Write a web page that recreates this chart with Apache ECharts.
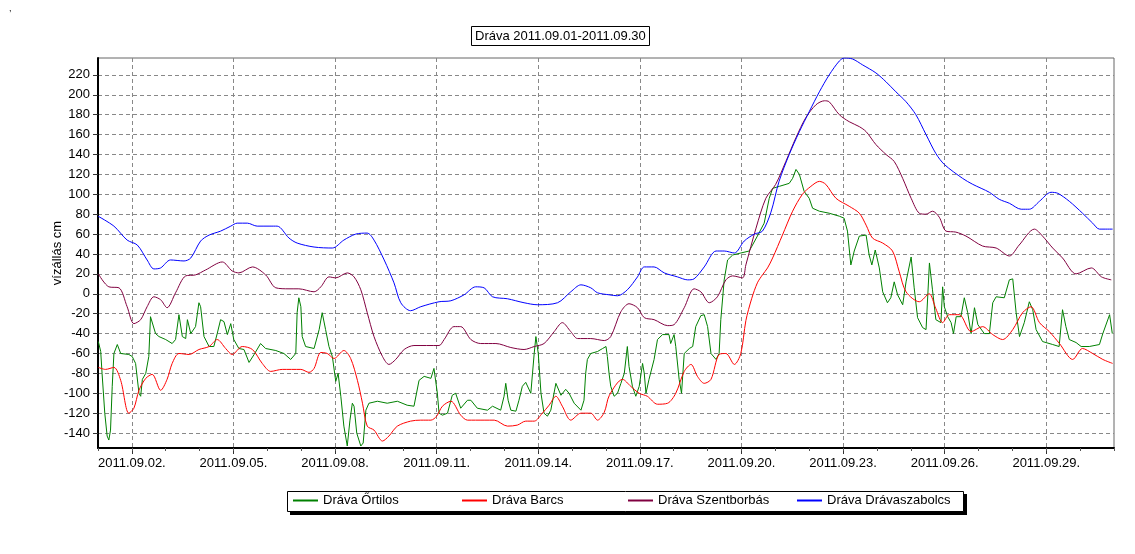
<!DOCTYPE html>
<html lang="hu">
<head>
    <meta charset="UTF-8">
    <title>Dráva vízállás</title>
</head>
<script type="text/javascript" src="https://cdn.jsdelivr.net/npm/echarts@6/dist/echarts.min.js"></script>
<style type="text/css">
    body {
        margin: 0;
        background-color: #ffffff;
    }
</style>
<body>
<div id="chart_main" style="width: 1135px;height:554px;"></div>
<script type="text/javascript">
    // x = napok 2011.09.01 00:00 óta, y = vízállás cm
    var ortilos = [
        [0.01,-48],[0.08,-58],[0.12,-80],[0.20,-120],[0.27,-143],[0.32,-147],[0.37,-137],[0.42,-93],[0.47,-60],
        [0.57,-51],[0.67,-60],[0.91,-61],[1.01,-63],[1.11,-70],[1.21,-100],[1.26,-103],[1.31,-86],[1.41,-80],
        [1.50,-63],[1.55,-23],[1.60,-21],[1.70,-40],[1.80,-43],[2.00,-46],[2.19,-50],[2.29,-46],[2.39,-21],
        [2.49,-43],[2.59,-45],[2.64,-26],[2.74,-40],[2.88,-33],[2.98,-9],[3.03,-13],[3.13,-43],[3.28,-53],
        [3.42,-53],[3.52,-40],[3.62,-26],[3.72,-28],[3.82,-41],[3.92,-30],[4.01,-46],[4.16,-55],[4.31,-56],
        [4.46,-69],[4.61,-61],[4.80,-50],[4.95,-55],[5.25,-57],[5.49,-60],[5.69,-66],[5.84,-60],[5.88,-19],
        [5.93,-4],[5.99,-13],[6.03,-43],[6.13,-53],[6.38,-55],[6.53,-36],[6.62,-19],[6.72,-36],[6.82,-53],
        [6.92,-63],[7.02,-88],[7.09,-80],[7.17,-103],[7.26,-133],[7.36,-153],[7.44,-127],[7.51,-110],[7.56,-113],
        [7.64,-140],[7.76,-153],[7.83,-150],[7.91,-117],[8.00,-110],[8.25,-108],[8.54,-110],[8.84,-108],[9.13,-112],
        [9.33,-113],[9.48,-87],[9.63,-83],[9.83,-85],[9.92,-75],[10.02,-100],[10.07,-120],[10.17,-122],[10.32,-120],
        [10.46,-102],[10.56,-100],[10.71,-115],[10.91,-107],[11.01,-107],[11.20,-115],[11.50,-117],[11.65,-113],
        [11.89,-117],[11.99,-103],[12.04,-90],[12.11,-107],[12.19,-117],[12.34,-118],[12.43,-107],[12.53,-93],
        [12.63,-89],[12.78,-100],[12.83,-80],[12.88,-60],[12.93,-43],[13.00,-60],[13.08,-100],[13.17,-120],
        [13.27,-123],[13.37,-117],[13.52,-90],[13.67,-102],[13.81,-96],[13.91,-100],[14.06,-110],[14.26,-117],
        [14.35,-107],[14.40,-80],[14.45,-66],[14.55,-60],[14.75,-58],[14.90,-55],[15.00,-53],[15.04,-63],
        [15.09,-80],[15.14,-93],[15.24,-103],[15.34,-100],[15.44,-90],[15.54,-80],[15.63,-53],[15.68,-73],
        [15.78,-93],[15.88,-103],[15.98,-93],[16.08,-70],[16.13,-80],[16.18,-100],[16.27,-86],[16.42,-66],
        [16.52,-46],[16.67,-41],[16.86,-41],[16.91,-50],[17.01,-41],[17.06,-53],[17.16,-86],[17.23,-100],
        [17.31,-60],[17.46,-55],[17.56,-53],[17.65,-33],[17.80,-22],[17.90,-21],[18.00,-33],[18.10,-60],
        [18.25,-66],[18.34,-60],[18.39,-26],[18.49,14],[18.59,34],[18.74,39],[18.98,41],[19.23,43],[19.47,58],
        [19.67,71],[19.82,96],[19.92,106],[20.12,108],[20.41,111],[20.51,116],[20.61,125],[20.71,120],[20.85,103],
        [21.00,96],[21.10,86],[21.30,83],[21.59,81],[21.89,78],[22.03,76],[22.13,63],[22.23,29],[22.33,43],
        [22.48,58],[22.68,59],[22.77,39],[22.85,29],[22.95,44],[23.07,26],[23.17,2],[23.31,-9],[23.41,-4],
        [23.51,12],[23.61,-1],[23.76,-11],[23.86,12],[24.01,37],[24.10,6],[24.20,-24],[24.35,-34],[24.45,-36],
        [24.55,31],[24.64,4],[24.74,-26],[24.89,-29],[24.94,7],[24.99,-13],[25.09,-23],[25.19,-29],[25.26,-40],
        [25.34,-23],[25.48,-23],[25.58,-4],[25.68,-19],[25.78,-40],[25.88,-14],[25.98,-31],[26.17,-40],[26.32,-40],
        [26.42,-9],[26.52,-3],[26.76,-4],[26.91,14],[27.01,15],[27.11,-19],[27.21,-43],[27.35,-29],[27.50,-8],
        [27.60,-16],[27.70,-36],[27.89,-48],[28.19,-51],[28.38,-53],[28.48,-16],[28.58,-33],[28.68,-46],
        [28.88,-49],[29.03,-53],[29.27,-53],[29.57,-51],[29.67,-40],[29.87,-21],[29.95,-40]
    ];
    var barcs = [
        [0.01,-74],[0.22,-76],[0.47,-74],[0.67,-87],[0.91,-120],[1.06,-115],[1.21,-97],[1.41,-85],[1.60,-81],
        [1.85,-97],[2.04,-86],[2.19,-70],[2.39,-60],[2.69,-61],[2.98,-56],[3.28,-53],[3.52,-46],[3.77,-55],
        [3.96,-61],[4.26,-53],[4.56,-56],[4.85,-70],[5.10,-78],[5.44,-76],[5.99,-76],[6.23,-79],[6.38,-75],
        [6.58,-59],[6.77,-60],[6.97,-65],[7.26,-57],[7.46,-65],[7.66,-87],[7.81,-110],[7.95,-133],[8.15,-137],
        [8.40,-148],[8.59,-143],[8.84,-133],[9.23,-128],[9.53,-127],[9.83,-127],[10.00,-123],[10.17,-113],
        [10.42,-108],[10.71,-122],[10.91,-127],[11.40,-127],[11.70,-127],[12.09,-133],[12.38,-132],[12.63,-128],
        [12.88,-128],[13.12,-120],[13.32,-112],[13.52,-103],[13.71,-113],[13.96,-127],[14.26,-120],[14.55,-120],
        [14.75,-127],[14.95,-119],[15.10,-102],[15.49,-86],[15.73,-93],[15.98,-100],[16.22,-103],[16.52,-111],
        [16.82,-110],[17.06,-100],[17.31,-78],[17.51,-71],[17.70,-83],[17.90,-90],[18.10,-86],[18.34,-61],
        [18.54,-60],[18.79,-71],[18.98,-60],[19.13,-27],[19.30,-5],[19.47,11],[19.62,19],[19.77,26],[19.92,36],
        [20.21,59],[20.51,83],[20.80,100],[21.05,108],[21.30,113],[21.49,110],[21.79,96],[22.18,88],[22.48,81],
        [22.68,69],[22.87,56],[23.17,51],[23.46,43],[23.66,22],[23.86,2],[24.25,-8],[24.54,0],[24.74,-15],
        [24.94,-29],[25.14,-21],[25.43,-21],[25.78,-38],[26.12,-33],[26.42,-41],[26.71,-46],[27.01,-36],
        [27.30,-19],[27.55,-13],[27.80,-29],[28.09,-38],[28.39,-50],[28.78,-66],[29.07,-55],[29.37,-60],
        [29.67,-66],[29.96,-70]
    ];
    var szentborbas = [
        [0.01,20],[0.32,7],[0.62,6],[0.86,-13],[1.06,-30],[1.26,-26],[1.45,-13],[1.65,-3],[1.85,-6],[2.04,-14],
        [2.29,1],[2.59,18],[2.88,19],[3.18,24],[3.67,32],[3.96,23],[4.16,21],[4.56,27],[4.95,19],[5.25,6],
        [5.64,5],[5.93,5],[6.38,2],[6.58,7],[6.82,17],[7.02,16],[7.36,21],[7.56,17],[7.76,4],[7.95,-19],
        [8.15,-43],[8.40,-63],[8.59,-71],[8.79,-66],[9.04,-56],[9.33,-52],[10.07,-52],[10.22,-46],[10.51,-33],
        [10.71,-33],[11.01,-46],[11.30,-50],[11.75,-50],[12.19,-54],[12.58,-56],[12.88,-53],[13.17,-50],
        [13.47,-38],[13.71,-29],[13.96,-38],[14.16,-45],[14.55,-45],[14.95,-47],[15.14,-43],[15.44,-18],
        [15.68,-10],[15.93,-14],[16.13,-24],[16.42,-26],[16.82,-32],[17.01,-31],[17.31,-14],[17.60,5],[17.80,2],
        [18.05,-9],[18.29,-3],[18.54,14],[18.74,18],[19.03,16],[19.13,29],[19.43,66],[19.72,96],[20.01,110],
        [20.31,133],[20.61,157],[20.90,177],[21.20,190],[21.45,194],[21.59,193],[21.89,180],[22.18,173],
        [22.48,168],[22.68,163],[22.97,150],[23.27,140],[23.51,133],[23.76,116],[24.01,96],[24.25,81],[24.45,80],
        [24.64,83],[24.84,77],[25.04,63],[25.33,62],[25.63,58],[26.12,48],[26.52,46],[26.91,38],[27.20,49],
        [27.65,65],[27.89,58],[28.19,46],[28.48,36],[28.88,20],[29.33,26],[29.63,17],[29.92,14]
    ];
    var dravaszabolcs = [
        [0.00,78],[0.47,68],[0.86,54],[1.16,49],[1.45,34],[1.65,25],[1.85,26],[2.14,34],[2.54,33],[2.74,36],
        [3.03,53],[3.28,59],[3.62,63],[3.92,68],[4.11,71],[4.41,71],[4.70,68],[5.05,68],[5.29,68],[5.64,56],
        [5.88,51],[6.38,47],[6.92,46],[7.26,54],[7.61,60],[7.95,61],[8.15,54],[8.45,34],[8.74,11],[8.94,-9],
        [9.23,-17],[9.53,-13],[10.07,-8],[10.42,-7],[10.81,-1],[11.15,7],[11.40,6],[11.65,-3],[12.09,-5],
        [12.58,-9],[12.97,-11],[13.57,-9],[13.96,2],[14.26,9],[14.55,6],[14.75,1],[15.09,-1],[15.34,-2],
        [15.63,4],[15.93,17],[16.13,27],[16.42,27],[16.72,21],[17.11,17],[17.41,14],[17.60,15],[17.90,27],
        [18.25,43],[18.49,43],[18.79,41],[19.08,53],[19.38,60],[19.62,63],[19.87,82],[20.11,113],[20.41,140],
        [20.71,163],[21.00,183],[21.30,203],[21.59,220],[21.89,234],[22.04,237],[22.28,236],[22.58,230],
        [22.97,222],[23.27,213],[23.56,203],[23.86,193],[24.15,180],[24.45,160],[24.74,141],[24.99,130],
        [25.53,116],[25.83,110],[26.32,102],[26.61,95],[26.91,91],[27.26,85],[27.50,85],[27.80,93],[28.14,102],
        [28.34,101],[28.68,93],[29.07,81],[29.37,71],[29.57,65],[29.96,65]
    ];
    var seriesNames = ['Dráva Őrtilos', 'Dráva Barcs', 'Dráva Szentborbás', 'Dráva Drávaszabolcs'];
    var seriesColors = ['#008000', '#ff0000', '#800040', '#0000ff'];
    var tickDays = [1, 4, 7, 10, 13, 16, 19, 22, 25, 28];
    var tickLabels = ['2011.09.02.', '2011.09.05.', '2011.09.08.', '2011.09.11.', '2011.09.14.',
        '2011.09.17.', '2011.09.20.', '2011.09.23.', '2011.09.26.', '2011.09.29.'];
    var yTicks = [-140, -120, -100, -80, -60, -40, -20, 0, 20, 40, 60, 80, 100, 120, 140, 160, 180, 200, 220];

    var font = "'Liberation Sans', Arial, sans-serif";
    var fs = 13;
    var chart = echarts.init(document.getElementById('chart_main'));

    function lineSeries(i, data, smooth) {
        return {
            name: seriesNames[i],
            type: 'line',
            data: data,
            symbol: 'none',
            smooth: smooth,
            lineStyle: {color: seriesColors[i], width: 1},
            itemStyle: {color: seriesColors[i]}
        };
    }

    // jelmagyarázat: egy keretes doboz, benne négy egyforma széles rész
    var legendLeft = [293, 462, 628, 797];
    var legends = [];
    for (var i = 0; i < seriesNames.length; i++) {
        legends.push({
            data: [seriesNames[i]],
            left: legendLeft[i],
            top: 494,
            padding: 0,
            icon: 'rect',
            itemWidth: 25,
            itemHeight: 2,
            itemStyle: {color: seriesColors[i], borderWidth: 0},
            textStyle: {fontSize: fs, color: '#000', fontFamily: font}
        });
    }

    chart.setOption({
        animation: false,
        textStyle: {fontFamily: font},
        title: {
            text: 'Dráva 2011.09.01-2011.09.30',
            left: 471,
            top: 26,
            padding: [3, 4, 2, 4],
            borderColor: '#000',
            borderWidth: 1,
            textStyle: {fontSize: fs, fontWeight: 'normal', color: '#000', fontFamily: font, lineHeight: 15}
        },
        graphic: [{
            type: 'text', left: 9, top: 4,
            style: {text: ',', fontSize: 9, fill: '#000', fontFamily: font}
        }, {
            // árnyék
            type: 'rect', left: 290, top: 494, z: -2,
            shape: {width: 677, height: 21},
            style: {fill: '#000'}
        }, {
            type: 'rect', left: 287, top: 491, z: -1,
            shape: {width: 676, height: 20},
            style: {fill: '#fff', stroke: '#000', lineWidth: 1}
        }],
        legend: legends,
        grid: {
            left: 98, right: 21, top: 58, bottom: 106,
            show: true,
            borderColor: '#666',
            borderWidth: 1
        },
        xAxis: [{
            type: 'value',
            min: 0,
            max: 30,
            position: 'bottom',
            axisLine: {onZero: false, lineStyle: {color: '#000', width: 2}},
            axisTick: {length: 6, customValues: tickDays, lineStyle: {color: '#333'}},
            axisLabel: {
                customValues: tickDays,
                margin: 9,
                fontSize: fs,
                color: '#000',
                formatter: function (v) {
                    var i = tickDays.indexOf(Math.round(v));
                    return i >= 0 ? tickLabels[i] : '';
                }
            },
            splitLine: {show: true, lineStyle: {color: '#888', type: [4, 3]}}
        }, {
            type: 'value',
            min: 0,
            max: 30,
            interval: 1,
            position: 'bottom',
            axisLine: {show: false, onZero: false},
            axisTick: {length: 3, lineStyle: {color: '#555'}},
            axisLabel: {show: false},
            splitLine: {show: false}
        }],
        yAxis: {
            type: 'value',
            min: -155,
            max: 237,
            name: 'vízállás cm',
            nameLocation: 'middle',
            nameGap: 34,
            nameMoveOverlap: false,
            nameTextStyle: {fontSize: fs, color: '#000', fontFamily: font},
            axisLine: {show: true, onZero: false, lineStyle: {color: '#000', width: 2}},
            axisTick: {show: true, length: 5, customValues: yTicks, lineStyle: {color: '#333'}},
            axisLabel: {customValues: yTicks, margin: 8, fontSize: fs, color: '#000'},
            splitLine: {show: true, lineStyle: {color: '#888', type: [4, 3]}}
        },
        series: [
            lineSeries(0, ortilos, false),
            lineSeries(1, barcs, 0.3),
            lineSeries(2, szentborbas, 0.3),
            lineSeries(3, dravaszabolcs, 0.3)
        ]
    });
</script>
</body>
</html>
